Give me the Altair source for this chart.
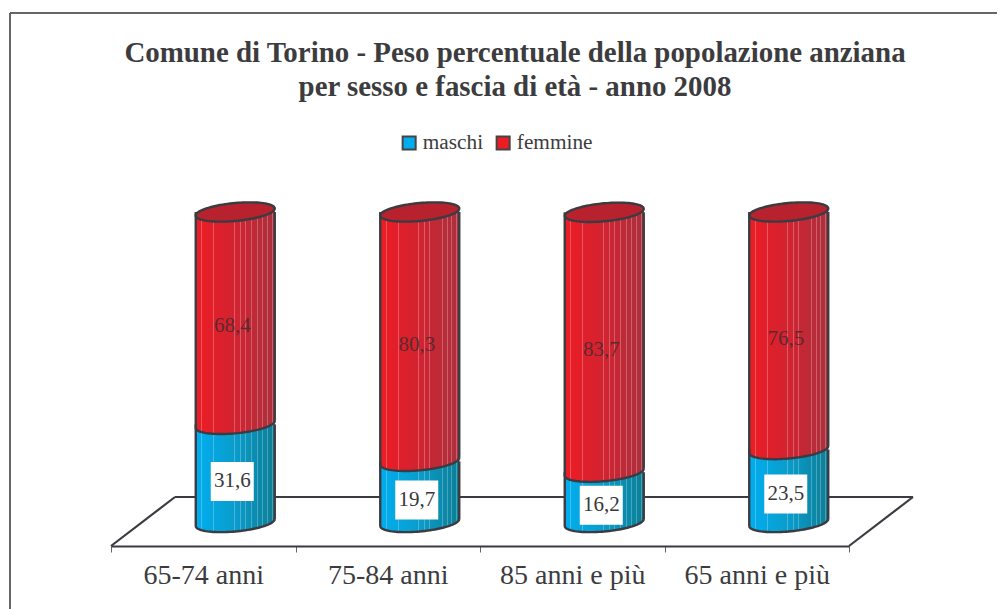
import math
import altair as alt
import pandas as pd

# ---- values ----
categories = ["65-74 anni", "75-84 anni", "85 anni e più", "65 anni e più"]
maschi = [31.6, 19.7, 16.2, 23.5]
femmine = [68.4, 80.3, 83.7, 76.5]
series_names = ["maschi", "femmine"]
series_colors = ["#00AEEF", "#ED1C24"]

# ---- style ----
FONT = "Liberation Serif"
INK = "#3C3C3E"
EDGE = "#3B3B42"
W2 = 39.5      # half cylinder width
TILT = 3.5     # ellipse tilt
B = 9.0        # ellipse minor
SHIFT = 32     # depth shift of cylinders vs axis
LBL_DX = 30
LBL_DY = 8
OVER = 1.5
STRIPES = [.07, .22, .48, .56, .62, .70, .78, .84, .90, .96]


def mix(a, b, t):
    ca = [int(a[i:i + 2], 16) for i in (1, 3, 5)]
    cb = [int(b[i:i + 2], 16) for i in (1, 3, 5)]
    return "#" + "".join(f"{round(x + (y - x) * t):02X}" for x, y in zip(ca, cb))


def gradient(c0, c1, c2):
    def base(t):
        return mix(c0, c1, t / .5) if t < .5 else mix(c1, c2, (t - .5) / .5)
    stops = [dict(offset=0, color=c0)]
    for s in STRIPES:
        e = s + .012
        stops += [dict(offset=s, color=base(s)),
                  dict(offset=s, color=mix(base(s), "#FFFFFF", .25)),
                  dict(offset=e, color=mix(base(e), "#FFFFFF", .25)),
                  dict(offset=e, color=base(e))]
    stops.append(dict(offset=1, color=c2))
    return dict(gradient="linear", x1=0, x2=1, y1=0, y2=0, stops=stops)


BLUE = gradient("#00AEEF", "#0A9CCB", "#0C7E96")
RED = gradient("#ED1C24", "#D22331", "#AB303D")


def pt(t):
    return W2 * math.cos(t), -TILT * math.cos(t) + B * math.sin(t)


def poly(ts):
    return " ".join(("M" if i == 0 else "L") + f"{x:.2f},{y:.2f}"
                    for i, (x, y) in enumerate(pt(t) for t in ts))


N = 48
lower = [math.pi * (1 - i / N) for i in range(N + 1)]        # left -> right via bottom
upper = [math.pi * (1 + i / N) for i in range(N + 1)]        # left -> right via top
ELLIPSE = poly([math.pi * (1 + i / N) for i in range(2 * N)]) + " Z"
LOWER_ARC = poly(lower)
LOWER_CAP = poly(lower) + f" L{W2},-12 L{-W2},-12 Z"
UPPER_CAP = poly(upper) + f" L{W2},12 L{-W2},12 Z"
BOX = "M-21.5,-19.5 L21.5,-19.5 L21.5,19.5 L-21.5,19.5 Z"

rows = []
for c, m, f in zip(categories, maschi, femmine):
    rows.append(dict(cat=c, serie="maschi", start=0, end=m, value=m))
    rows.append(dict(cat=c, serie="femmine", start=m, end=m + f, value=f))
df = pd.DataFrame(rows)
df["start2"] = df["start"] + OVER
df["end_up"] = df["end"] + OVER
df["end_dn"] = df["end"] - OVER
df["mid"] = (df["start"] + df["end"]) / 2
df["label"] = df["value"].map(lambda v: f"{v:.1f}".replace(".", ","))

blue = df[df.serie == "maschi"]
red = df[df.serie == "femmine"]

xscale = alt.Scale(domain=categories, range=[103, 841], paddingInner=0, paddingOuter=0, round=False)
yscale = alt.Scale(domain=[0, 100], range=[514.5, 204], nice=False, zero=False)
AX = alt.Axis(orient="bottom", labelAngle=0, tickBand="extent",
              domainColor=EDGE, domainWidth=2.2, tickColor="#666666", tickWidth=1,
              tickSize=6, labelFont=FONT, labelFontSize=28, labelColor=INK,
              labelPadding=9, grid=False)
X = alt.X("cat:N", scale=xscale, sort=categories, axis=AX, title=None)


def Y(f):
    return alt.Y(f, type="quantitative", scale=yscale, axis=None, title=None)


def sym(data, field, shape, fill):
    return alt.Chart(data).mark_point(shape=shape, size=4, filled=True, fill=fill,
                                      strokeWidth=0, opacity=1, xOffset=SHIFT).encode(x=X, y=Y(field))


def outline(data, field, shape, width=2.4):
    return alt.Chart(data).mark_point(shape=shape, size=4, filled=False, stroke=EDGE,
                                      strokeWidth=width, opacity=1, xOffset=SHIFT).encode(x=X, y=Y(field))


def body(data, a, b, fill):
    return alt.Chart(data).mark_bar(width=2 * W2, fill=fill, xOffset=SHIFT, stroke=None).encode(
        x=X, y=Y(a), y2=alt.Y2(b))


def line(x1, y1, x2, y2, color=EDGE, w=2.2):
    return alt.Chart().mark_rule(color=color, strokeWidth=w).encode(
        x=alt.value(x1), y=alt.value(y1), x2=alt.value(x2), y2=alt.value(y2))


legend_layer = alt.Chart(df).mark_square(opacity=0, size=0).encode(
    x=X, y=Y("start"),
    color=alt.Color("serie:N", scale=alt.Scale(domain=series_names, range=series_colors),
                    legend=alt.Legend(orient="none", legendX=390.5, legendY=124, direction="horizontal",
                                      columns=2, title=None, padding=0, symbolType="square",
                                      symbolSize=170, symbolOpacity=1, symbolStrokeColor="#444444",
                                      symbolStrokeWidth=2, labelFont=FONT, labelFontSize=21.3,
                                      labelColor=INK, labelOffset=3, columnPadding=9)))

side_l = alt.Chart(df).mark_rule(color=EDGE, strokeWidth=2.4, xOffset=SHIFT - W2, yOffset=TILT).encode(
    x=X, y=Y("start"), y2=alt.Y2("end"))
side_r = alt.Chart(df).mark_rule(color=EDGE, strokeWidth=2.4, xOffset=SHIFT + W2, yOffset=-TILT).encode(
    x=X, y=Y("start"), y2=alt.Y2("end"))

box = alt.Chart(blue).mark_point(shape=BOX, size=4, filled=True, fill="#FFFFFF", strokeWidth=0, opacity=1,
                                 xOffset=LBL_DX - 1, yOffset=LBL_DY).encode(x=X, y=Y("mid"))
text = alt.Chart(df).mark_text(font=FONT, fontSize=21, align="center", baseline="middle",
                               xOffset=LBL_DX - 1, yOffset=LBL_DY).encode(
    x=X, y=Y("mid"), text="label:N",
    color=alt.condition(alt.datum.serie == "maschi", alt.value("#38383A"), alt.value("#5A2A30")))

chart = alt.layer(
    line(2, 5, 989, 5, "#666666", 2),
    line(2, 5, 2, 601, "#666666", 2),
    line(167, 489, 905, 489),
    line(103, 538, 167, 489),
    line(841, 538, 905, 489),
    legend_layer,
    sym(blue, "start", LOWER_CAP, BLUE),
    body(blue, "start2", "end_up", BLUE),
    outline(blue, "start", LOWER_ARC),
    sym(red, "start", LOWER_CAP, RED),
    body(red, "start2", "end_dn", RED),
    sym(red, "end", UPPER_CAP, RED),
    outline(red, "start", LOWER_ARC),
    side_l, side_r,
    alt.Chart(red).mark_point(shape=ELLIPSE, size=4, filled=True, fill="#B8222E", stroke=EDGE,
                              strokeWidth=2.4, opacity=1, xOffset=SHIFT).encode(x=X, y=Y("end")),
    box, text,
).resolve_scale(color="independent").properties(
    width=989, height=538,
    padding=dict(left=0, top=0, right=0, bottom=63),
    autosize=alt.AutoSizeParams(type="none"),
    title=alt.TitleParams(
        text=["Comune di Torino - Peso percentuale della popolazione anziana",
              "per sesso e fascia di età - anno 2008"],
        font=FONT, fontSize=28.9, fontWeight="bold", color=INK, anchor="middle", frame="group",
        lineHeight=34, offset=-94, dx=12.5),
).configure_view(stroke=None)

chart.save("out.html", embed_options={"renderer": "svg", "actions": False})
